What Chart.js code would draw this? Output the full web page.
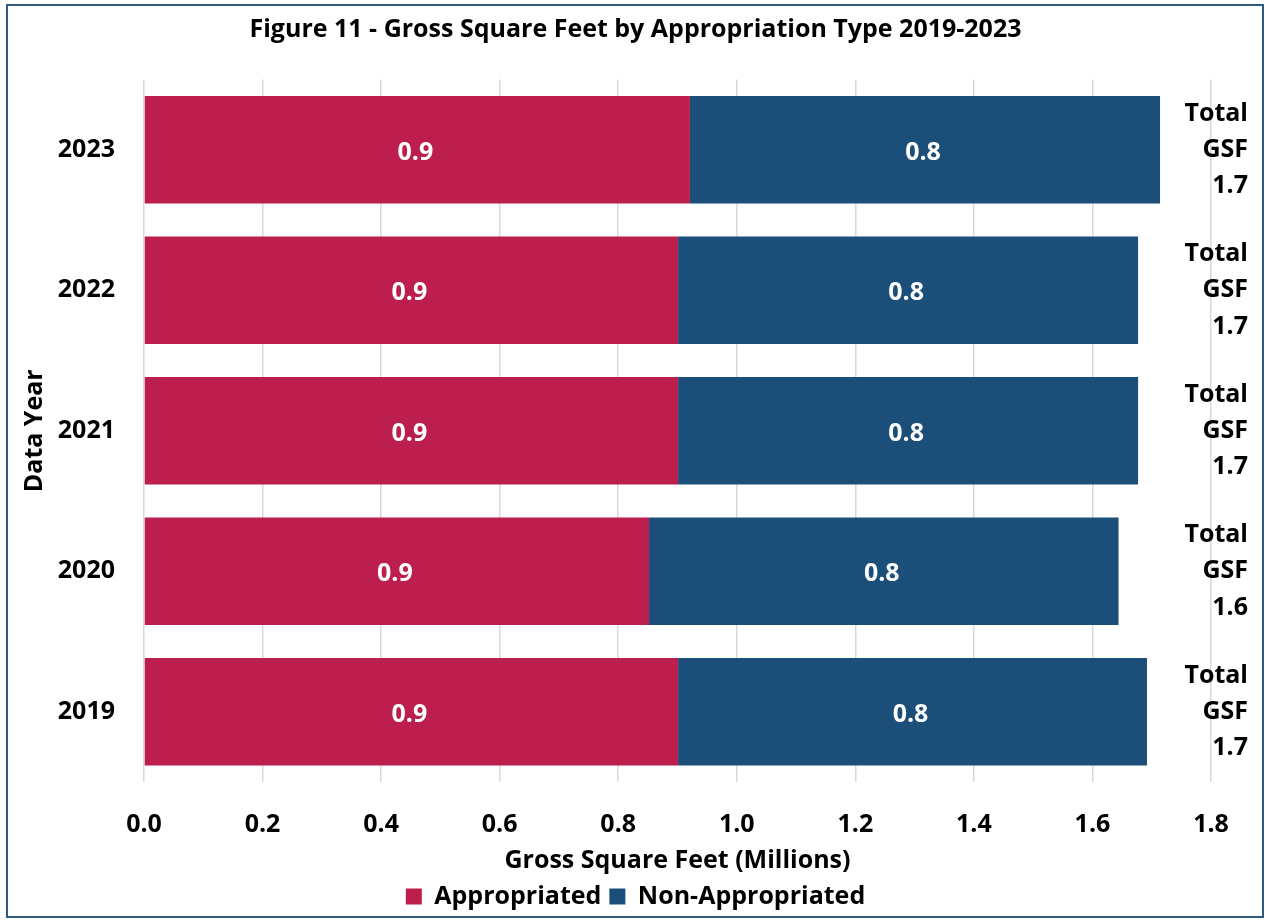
<!DOCTYPE html>
<html>
<head>
<meta charset="utf-8">
<script src="https://cdn.jsdelivr.net/npm/chart.js@4"></script>
<style>
html,body{margin:0;padding:0;background:#fff;}
#wrap{position:absolute;left:0;top:0;width:1265px;height:921px;}
</style>
</head>
<body>
<div id="wrap"><canvas id="c" width="1265" height="921"></canvas></div>
<script>
const years = ['2023', '2022', '2021', '2020', '2019'];
const appropriated = [0.921, 0.901, 0.901, 0.852, 0.901];
const nonAppropriated = [0.793, 0.776, 0.776, 0.792, 0.791];
const xTicks = [0.0, 0.2, 0.4, 0.6, 0.8, 1.0, 1.2, 1.4, 1.6, 1.8];
const seriesNames = ['Appropriated', 'Non-Appropriated'];
const colors = ['#BC1F4E', '#1B4F7A'];
const totalLabels = years.map((y, i) => ['Total', 'GSF', (appropriated[i] + nonAppropriated[i]).toFixed(1)]);

const FONT = '"Open Sans", sans-serif';
const FS = 25;

const borderPlugin = {
  id: 'frame',
  beforeDraw(chart) {
    const ctx = chart.ctx;
    ctx.save();
    ctx.fillStyle = '#fff';
    ctx.fillRect(0, 0, chart.width, chart.height);
    ctx.strokeStyle = '#2E5A80';
    ctx.lineWidth = 2;
    ctx.strokeRect(7, 5, chart.width - 9, chart.height - 9);
    ctx.restore();
  }
};

const labelPlugin = {
  id: 'labels',
  afterDatasetsDraw(chart) {
    const ctx = chart.ctx;
    ctx.save();
    ctx.font = 'bold ' + FS + 'px ' + FONT;
    ctx.fillStyle = '#fff';
    ctx.textAlign = 'center';
    ctx.textBaseline = 'middle';
    chart.data.datasets.forEach((ds, di) => {
      chart.getDatasetMeta(di).data.forEach((bar, i) => {
        const left = Math.min(bar.x, bar.base), right = Math.max(bar.x, bar.base);
        ctx.fillText(ds.data[i].toFixed(1), (left + right) / 2 - 2, bar.y + 3);
      });
    });
    ctx.restore();
  }
};

new Chart(document.getElementById('c'), {
  type: 'bar',
  data: {
    labels: years,
    datasets: [
      { label: seriesNames[0], data: appropriated, backgroundColor: colors[0], barPercentage: 1, categoryPercentage: 0.765 },
      { label: seriesNames[1], data: nonAppropriated, backgroundColor: colors[1], barPercentage: 1, categoryPercentage: 0.765 }
    ]
  },
  options: {
    indexAxis: 'y',
    responsive: false,
    animation: false,
    devicePixelRatio: 1,
    layout: { padding: { left: 20, right: 14, top: 5, bottom: 2 } },
    plugins: {
      title: {
        display: true,
        text: 'Figure 11 - Gross Square Feet by Appropriation Type 2019-2023',
        color: '#000',
        font: { family: FONT, size: FS, weight: 'bold' },
        padding: { top: 10, bottom: 34.5 }
      },
      legend: {
        position: 'bottom',
        labels: {
          color: '#000',
          font: { family: FONT, size: FS, weight: 'bold' },
          boxWidth: 16, boxHeight: 16, padding: 8
        }
      },
      tooltip: { enabled: false }
    },
    scales: {
      x: {
        stacked: true,
        min: 0, max: 1.8,
        afterBuildTicks(s) { s.ticks = xTicks.map(v => ({ value: v })); },
        afterFit(s) { s.height = 94; },
        ticks: {
          color: '#000',
          font: { family: FONT, size: FS, weight: 'bold' },
          padding: 28,
          callback: (v) => Number(v).toFixed(1)
        },
        grid: { color: '#D9D9D9', lineWidth: 1.5, drawTicks: false },
        border: { display: false },
        title: {
          display: true, text: 'Gross Square Feet (Millions)', color: '#000',
          font: { family: FONT, size: FS, weight: 'bold' }, padding: { top: 0, bottom: 0 }
        }
      },
      y: {
        stacked: true,
        afterFit(s) { s.width = 124; },
        ticks: {
          color: '#000',
          font: { family: FONT, size: FS, weight: 'bold' },
          padding: 21
        },
        grid: { display: false },
        border: { display: false },
        title: {
          display: true, text: 'Data Year', color: '#000',
          font: { family: FONT, size: FS, weight: 'bold' }, padding: 0
        }
      },
      yTotal: {
        type: 'category',
        position: 'right',
        labels: totalLabels,
        offset: true,
        afterFit(s) { s.width = 40; s.paddingTop = 0; s.paddingBottom = 0; },
        ticks: {
          color: '#000',
          font: { family: FONT, size: FS, weight: 'bold', lineHeight: 1.45 },
          mirror: true,
          crossAlign: 'near',
          padding: 37
        },
        grid: { display: false, drawTicks: false },
        border: { display: false }
      }
    }
  },
  plugins: [borderPlugin, labelPlugin]
});
</script>
</body>
</html>
